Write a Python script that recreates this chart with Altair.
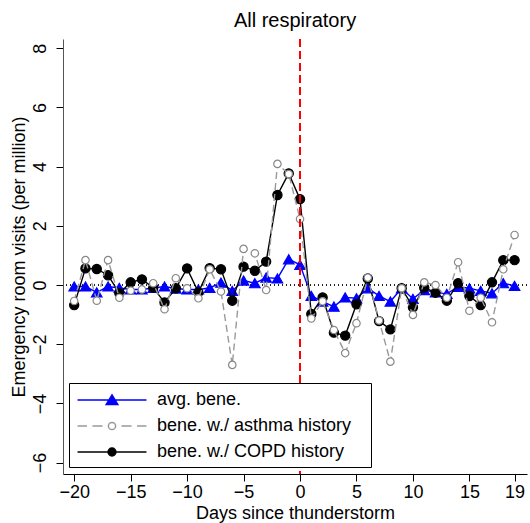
import altair as alt
import pandas as pd

days = list(range(-20, 20))
avg = [-0.05, -0.05, -0.25, -0.05, -0.1, -0.15, -0.15, -0.1, -0.05, -0.12,
       -0.15, -0.15, -0.1, 0.08, -0.2, 0.15, 0.06, 0.25, 0.22, 0.87,
       0.68, -0.37, -0.56, -0.73, -0.42, -0.45, -0.11, -0.37, -0.56, -0.11,
       -0.47, -0.17, -0.25, -0.30, -0.06, -0.11, -0.2, -0.28, 0.06, -0.03]
asthma = [-0.54, 0.84, -0.53, 0.84, -0.43, -0.19, -0.15, 0.06, -0.82, 0.23,
          -0.11, -0.45, 0.53, -0.22, -2.70, 1.22, 1.07, -0.17, 4.09, 3.75,
          2.23, -1.13, -0.55, -1.52, -2.30, -1.29, 0.25, -1.2, -2.59, -0.11,
          -1.01, 0.09, 0.0, -0.43, 0.77, -0.87, -0.43, -1.26, 0.53, 1.69]
copd = [-0.68, 0.56, 0.54, 0.33, -0.28, 0.09, 0.19, -0.09, -0.59, -0.11,
        0.56, -0.25, 0.57, 0.53, -0.53, 0.62, 0.48, 0.79, 3.04, 3.77,
        2.9, -0.98, -0.42, -1.61, -1.71, -0.65, 0.22, -1.22, -1.5, -0.11,
        -0.75, -0.09, -0.26, -0.53, 0.06, -0.37, -0.68, 0.09, 0.84, 0.84]

series_names = ["avg. bene.", "bene. w./ asthma history", "bene. w./ COPD history"]
x_ticks = [-20, -15, -10, -5, 0, 5, 10, 15, 19]
y_ticks = [-6, -4, -2, 0, 2, 4, 6, 8]

rows = []
for name, vals in zip(series_names, [avg, asthma, copd]):
    for d, v in zip(days, vals):
        rows.append({"day": d, "value": v, "series": name})
df = pd.DataFrame(rows)

FONT = "Liberation Sans"
BLUE = "#0000ff"
GRAY = "#999999"
BLACK = "#000000"

xscale = alt.Scale(domain=[-20.99, 20.1], nice=False, zero=False)
yscale = alt.Scale(domain=[-6.385, 8.31], nice=False, zero=False)

X = alt.X("day:Q", scale=xscale,
          axis=alt.Axis(values=x_ticks, title="Days since thunderstorm"))
Y = alt.Y("value:Q", scale=yscale,
          axis=alt.Axis(values=y_ticks, title="Emergency room visits (per million)"))

base = alt.Chart(df)

zero_line = base.mark_rule(color="#222222", strokeWidth=1, strokeDash=[1, 3]).encode(
    y=alt.datum(0, scale=yscale))
storm_line = base.mark_rule(color="#ff0000", strokeWidth=1.6, strokeDash=[7.5, 4.5]).encode(
    x=alt.datum(0, scale=xscale))

def series_layers(name, color, dash, shape, size, fill, stroke):
    sub = base.transform_filter(alt.datum.series == name)
    line_kwargs = dict(color=color, strokeWidth=1.4)
    if dash:
        line_kwargs["strokeDash"] = dash
    line = sub.mark_line(**line_kwargs).encode(x=X, y=Y)
    pts = sub.mark_point(shape=shape, size=size, fill=fill, stroke=stroke,
                         filled=False, fillOpacity=1, strokeWidth=1.2, opacity=1).encode(x=X, y=Y)
    return [line, pts]

layers = [zero_line]
layers += series_layers(series_names[0], BLUE, None, "triangle-up", 110, BLUE, BLUE)
layers += series_layers(series_names[2], BLACK, None, "circle", 85, BLACK, BLACK)
layers += series_layers(series_names[1], GRAY, [7, 4], "circle", 55, "#ffffff", "#888888")
layers.append(storm_line)

# legend-only layer (no visible marks); symbols come from the legend's own scales
# symbol size 400 -> unit radius 10 px, so paths span +-3.45 units (69 px line)
paths = [
    "M-3.45,0H3.45M0,-0.5L0.58,0.45H-0.58Z",
    "M-3.45,0H-2.5M-1.95,0H-0.95M0.95,0H1.95M2.5,0H3.45"
    "M0.36,0A0.36,0.36 0 1,1 -0.36,0A0.36,0.36 0 1,1 0.36,0Z",
    "M-3.45,0H3.45M0.39,0A0.39,0.39 0 1,1 -0.39,0A0.39,0.39 0 1,1 0.39,0Z",
]
leg = alt.Legend(title=None, labelExpr="datum.label + '\u2800'")
legend_layer = base.transform_filter("false").mark_point(strokeWidth=1.5, opacity=1).encode(
    x=X, y=Y,
    shape=alt.Shape("series:N", scale=alt.Scale(domain=series_names, range=paths), legend=leg),
    fill=alt.Fill("series:N", scale=alt.Scale(domain=series_names, range=[BLUE, "#ffffff", BLACK]), legend=leg),
    stroke=alt.Stroke("series:N", scale=alt.Scale(domain=series_names, range=[BLUE, GRAY, BLACK]), legend=leg),
)
layers.append(legend_layer)

chart = alt.layer(*layers).properties(
    width=464, height=435,
    title=alt.TitleParams("All respiratory", fontSize=20, font=FONT, fontWeight="normal",
                          anchor="middle", color="black", offset=7),
    autosize=alt.AutoSizeParams(type="none"),
    padding={"left": 63, "top": 39, "right": 3, "bottom": 49},
).configure_view(strokeWidth=0).configure_axis(
    grid=False, labelFont=FONT, titleFont=FONT, labelFontSize=18, titleFontSize=18,
    labelColor="black", titleColor="black", titleFontWeight="normal",
    tickSize=7, tickColor="black", domainColor="black", domainWidth=1,
).configure_axisY(
    labelAngle=270, labelPadding=7, titlePadding=3, domainColor="#555555",
).configure_axisX(
    labelPadding=2, titlePadding=3,
).configure_legend(
    orient="none", legendX=6, legendY=344, symbolSize=400, symbolStrokeWidth=1.5,
    symbolOffset=26, labelOffset=34,
    labelFont=FONT, labelFontSize=18, labelColor="black",
    padding=6, rowPadding=6, strokeColor="black", fillColor="white",
    labelLimit=400, symbolOpacity=1,
)

chart.save("out.html", embed_options={"renderer": "svg", "actions": False})
